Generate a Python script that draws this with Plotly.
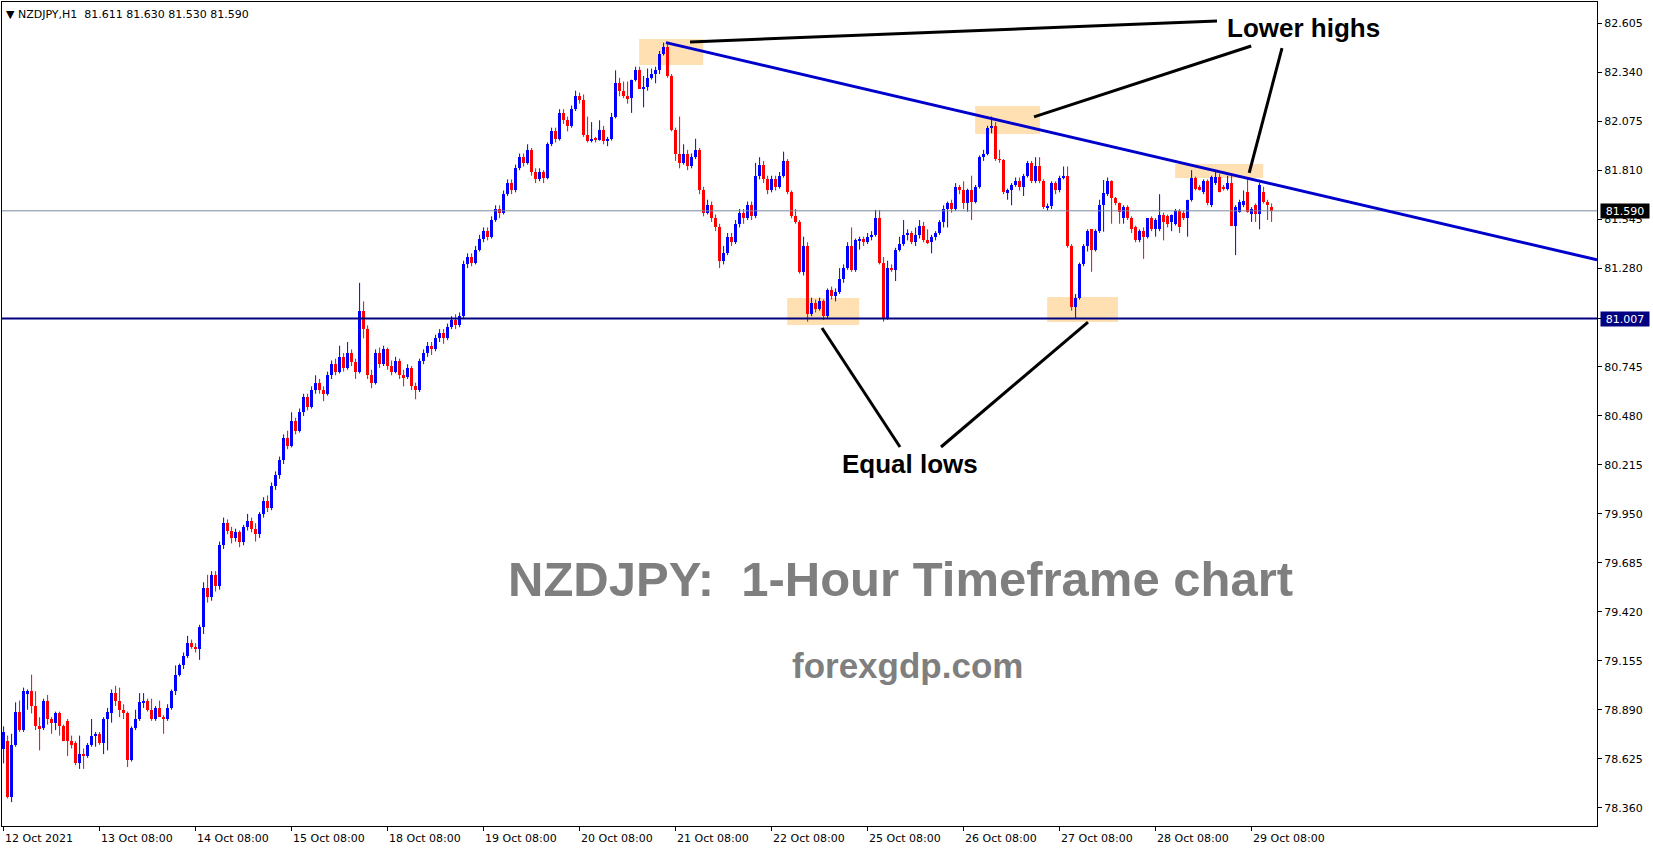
import plotly.graph_objects as go

# ---------------- data (hourly bars, NZDJPY H1) ----------------
opens = [
 78.68,78.72,78.42,78.70,78.88,78.78,78.98,78.99,78.91,78.80,78.79,78.94,78.84,78.82,78.87,78.80,78.83,78.72,78.71,78.60,78.65,78.64,78.70,78.75,
 78.76,78.71,78.84,78.87,78.98,78.94,78.89,78.87,78.62,78.79,78.84,78.93,78.94,78.89,78.84,78.90,78.85,78.84,78.90,78.99,79.08,79.13,79.18,79.25,
 79.23,79.22,79.34,79.55,79.50,79.62,79.56,79.78,79.90,79.86,79.82,79.85,79.80,79.88,79.91,79.87,79.84,79.95,80.02,79.98,80.10,80.16,80.24,80.36,
 80.32,80.45,80.40,80.50,80.58,80.53,80.62,80.66,80.62,80.60,80.70,80.76,80.72,80.80,80.74,80.82,80.77,80.72,81.05,80.95,80.70,80.66,80.82,80.76,
 80.84,80.75,80.72,80.78,80.70,80.69,80.74,80.64,80.62,80.78,80.82,80.86,80.84,80.90,80.93,80.90,80.96,81.00,80.97,81.02,81.30,81.34,81.31,81.38,
 81.44,81.48,81.45,81.54,81.60,81.58,81.68,81.74,81.70,81.82,81.88,81.85,81.92,81.80,81.76,81.80,81.77,81.95,82.02,81.98,82.12,82.08,82.05,82.14,
 82.21,82.19,82.00,81.97,81.98,81.975,82.03,81.97,81.98,82.10,82.28,82.24,82.21,82.20,82.30,82.35,82.25,82.26,82.31,82.33,82.35,82.44,82.475,82.32,
 82.03,81.90,81.85,81.90,81.83,81.88,81.92,81.70,81.58,81.62,81.55,81.50,81.32,81.36,81.45,81.42,81.52,81.58,81.55,81.62,81.56,81.78,81.84,81.76,
 81.70,81.76,81.72,81.78,81.86,81.69,81.56,81.53,81.26,81.40,81.03,81.09,81.06,81.10,81.02,81.16,81.13,81.15,81.22,81.28,81.40,81.27,81.43,81.44,
 81.42,81.45,81.46,81.55,81.31,81.01,81.28,81.27,81.38,81.41,81.46,81.47,81.42,81.46,81.51,81.43,81.42,81.45,81.47,81.53,81.60,81.63,81.60,81.72,
 81.70,81.63,81.70,81.64,81.72,81.88,81.90,82.04,82.05,81.87,81.865,81.69,81.70,81.73,81.75,81.72,81.78,81.85,81.75,81.83,81.75,81.61,81.615,81.74,
 81.70,81.77,81.78,81.40,81.07,81.12,81.30,81.40,81.49,81.38,81.48,81.62,81.68,81.75,81.66,81.63,81.55,81.61,81.55,81.50,81.43,81.48,81.45,81.55,
 81.49,81.49,81.57,81.56,81.53,81.52,81.59,81.58,81.55,81.65,81.77,81.72,81.69,81.75,81.62,81.74,81.775,81.72,81.71,81.74,81.51,81.585,81.62,81.69,
 81.575,81.62,81.575,81.69,81.64,81.611]
highs = [
 78.80,78.75,78.76,78.93,78.94,79.01,79.00,79.08,78.99,78.85,78.95,78.97,78.85,78.88,78.88,78.81,78.84,78.75,78.72,78.75,78.68,78.71,78.84,78.77,
 78.77,78.85,78.90,79.00,79.02,79.01,78.92,78.88,78.80,78.89,78.98,78.98,78.95,78.95,78.91,78.94,78.86,78.92,79.00,79.13,79.14,79.20,79.29,79.27,
 79.25,79.35,79.58,79.62,79.64,79.64,79.80,79.93,79.92,79.88,79.87,79.86,79.89,79.95,79.93,79.90,79.96,80.04,80.05,80.12,80.18,80.26,80.38,80.40,
 80.50,80.47,80.52,80.60,80.60,80.64,80.70,80.68,80.64,80.72,80.78,80.79,80.86,80.82,80.88,80.84,80.79,81.20,81.10,80.97,80.73,80.84,80.85,80.86,
 80.85,80.78,80.80,80.79,80.73,80.76,80.75,80.66,80.79,80.84,80.88,80.88,80.92,80.95,80.95,80.98,81.02,81.03,81.04,81.32,81.36,81.36,81.40,81.46,
 81.50,81.50,81.56,81.62,81.62,81.70,81.76,81.76,81.84,81.90,81.90,81.95,81.93,81.82,81.82,81.81,81.96,82.04,82.04,82.14,82.14,82.10,82.16,82.24,
 82.23,82.22,82.10,82.07,81.99,82.08,82.05,81.99,82.12,82.35,82.31,82.29,82.29,82.30,82.37,82.37,82.32,82.36,82.36,82.37,82.455,82.50,82.505,82.33,
 82.04,82.10,81.95,81.92,81.90,81.98,81.93,81.72,81.65,81.64,81.57,81.52,81.40,81.47,81.47,81.54,81.60,81.60,81.64,81.64,81.85,81.88,81.86,81.78,
 81.78,81.78,81.80,81.91,81.87,81.70,81.60,81.54,81.45,81.42,81.12,81.11,81.12,81.11,81.17,81.18,81.17,81.28,81.30,81.42,81.50,81.44,81.45,81.45,
 81.47,81.48,81.595,81.595,81.34,81.32,81.30,81.39,81.45,81.54,81.49,81.48,81.50,81.54,81.53,81.49,81.46,81.48,81.54,81.62,81.64,81.65,81.74,81.73,
 81.75,81.71,81.78,81.73,81.89,81.92,82.05,82.10,82.07,81.92,81.87,81.71,81.74,81.77,81.77,81.79,81.86,81.86,81.88,81.88,81.76,81.63,81.75,81.75,
 81.78,81.83,81.83,81.41,81.14,81.31,81.41,81.49,81.49,81.49,81.65,81.757,81.77,81.755,81.665,81.635,81.62,81.62,81.56,81.51,81.49,81.50,81.55,81.56,
 81.55,81.68,81.58,81.57,81.57,81.60,81.60,81.59,81.65,81.81,81.775,81.73,81.76,81.76,81.78,81.81,81.79,81.73,81.78,81.79,81.62,81.65,81.70,81.76,
 81.61,81.63,81.74,81.72,81.65,81.630]
lows = [
 78.60,78.41,78.39,78.69,78.77,78.77,78.89,78.87,78.78,78.67,78.78,78.81,78.76,78.78,78.75,78.72,78.64,78.68,78.59,78.57,78.57,78.63,78.69,78.69,
 78.70,78.65,78.67,78.82,78.91,78.85,78.84,78.58,78.61,78.78,78.83,78.90,78.88,78.83,78.83,78.85,78.76,78.83,78.89,78.97,79.07,79.11,79.17,79.22,
 79.20,79.16,79.30,79.47,79.48,79.53,79.54,79.76,79.84,79.79,79.80,79.77,79.78,79.86,79.85,79.80,79.82,79.93,79.96,79.97,80.08,80.14,80.22,80.30,
 80.31,80.38,80.39,80.48,80.51,80.52,80.60,80.60,80.56,80.59,80.68,80.70,80.71,80.72,80.73,80.75,80.68,80.71,80.90,80.68,80.63,80.65,80.74,80.75,
 80.73,80.70,80.71,80.68,80.64,80.68,80.62,80.57,80.61,80.76,80.80,80.81,80.83,80.88,80.87,80.89,80.95,80.95,80.96,81.01,81.28,81.29,81.30,81.37,
 81.42,81.43,81.44,81.53,81.55,81.57,81.67,81.68,81.69,81.81,81.83,81.84,81.78,81.74,81.75,81.74,81.76,81.94,81.96,81.97,82.06,82.02,82.04,82.13,
 82.17,81.99,81.96,81.96,81.96,81.97,81.95,81.94,81.97,82.09,82.21,82.20,82.17,82.12,82.29,82.25,82.15,82.24,82.30,82.28,82.33,82.43,82.31,82.02,
 81.86,81.82,81.84,81.81,81.82,81.87,81.68,81.56,81.57,81.53,81.48,81.28,81.30,81.35,81.40,81.41,81.50,81.52,81.54,81.54,81.55,81.76,81.74,81.68,
 81.69,81.70,81.71,81.77,81.68,81.55,81.52,81.25,81.24,80.99,81.02,81.04,81.05,81.00,81.01,81.11,81.10,81.14,81.20,81.27,81.26,81.26,81.38,81.40,
 81.41,81.43,81.45,81.30,80.99,81.00,81.26,81.21,81.37,81.40,81.43,81.41,81.40,81.44,81.42,81.41,81.36,81.43,81.46,81.50,81.50,81.58,81.59,81.68,
 81.60,81.585,81.54,81.63,81.71,81.86,81.89,82.01,81.86,81.85,81.68,81.65,81.62,81.72,81.70,81.67,81.77,81.74,81.74,81.74,81.60,81.59,81.60,81.68,
 81.69,81.76,81.39,81.05,81.008,81.11,81.29,81.37,81.26,81.37,81.47,81.477,81.67,81.52,81.62,81.52,81.52,81.54,81.47,81.42,81.42,81.33,81.44,81.48,
 81.45,81.48,81.43,81.50,81.48,81.51,81.47,81.54,81.45,81.64,81.70,81.70,81.68,81.62,81.61,81.73,81.69,81.70,81.70,81.51,81.35,81.58,81.61,81.58,
 81.53,81.53,81.49,81.63,81.54,81.530]
closes = [
 78.77,78.42,78.70,78.88,78.78,78.99,78.99,78.91,78.80,78.79,78.94,78.84,78.82,78.87,78.80,78.72,78.72,78.70,78.60,78.65,78.64,78.70,78.75,78.76,
 78.71,78.84,78.88,78.98,78.94,78.89,78.87,78.62,78.79,78.84,78.93,78.94,78.89,78.84,78.90,78.85,78.84,78.90,78.99,79.08,79.13,79.18,79.25,79.23,
 79.22,79.34,79.55,79.50,79.62,79.56,79.78,79.90,79.86,79.82,79.85,79.80,79.88,79.91,79.87,79.84,79.95,80.02,79.98,80.10,80.16,80.24,80.36,80.32,
 80.45,80.40,80.50,80.58,80.53,80.62,80.66,80.62,80.60,80.70,80.76,80.72,80.80,80.74,80.82,80.77,80.72,81.05,80.95,80.70,80.66,80.82,80.76,80.84,
 80.75,80.72,80.78,80.70,80.69,80.74,80.64,80.62,80.78,80.82,80.86,80.84,80.90,80.93,80.90,80.96,81.00,80.97,81.02,81.30,81.34,81.31,81.38,81.44,
 81.48,81.45,81.54,81.60,81.58,81.68,81.74,81.70,81.82,81.88,81.85,81.92,81.80,81.76,81.80,81.77,81.95,82.02,81.98,82.12,82.08,82.05,82.14,82.21,
 82.19,82.00,81.97,81.98,81.975,82.03,81.97,81.98,82.10,82.28,82.24,82.21,82.20,82.30,82.35,82.25,82.26,82.31,82.33,82.35,82.44,82.475,82.32,82.03,
 81.90,81.85,81.90,81.83,81.88,81.92,81.70,81.58,81.62,81.55,81.50,81.32,81.36,81.45,81.42,81.52,81.58,81.55,81.62,81.56,81.78,81.84,81.76,81.70,
 81.76,81.72,81.78,81.86,81.69,81.56,81.53,81.26,81.40,81.03,81.09,81.06,81.10,81.02,81.16,81.13,81.15,81.22,81.28,81.40,81.27,81.43,81.44,81.42,
 81.45,81.46,81.55,81.31,81.01,81.28,81.27,81.38,81.41,81.46,81.47,81.42,81.46,81.51,81.43,81.42,81.45,81.47,81.53,81.60,81.63,81.60,81.72,81.70,
 81.63,81.70,81.64,81.72,81.88,81.90,82.04,82.05,81.87,81.865,81.69,81.70,81.73,81.75,81.72,81.78,81.85,81.75,81.83,81.75,81.61,81.615,81.74,81.70,
 81.77,81.78,81.40,81.07,81.12,81.30,81.40,81.48,81.38,81.48,81.62,81.684,81.75,81.66,81.63,81.585,81.61,81.55,81.49,81.43,81.48,81.45,81.55,81.49,
 81.54,81.57,81.53,81.52,81.57,81.59,81.50,81.55,81.65,81.77,81.71,81.705,81.75,81.63,81.775,81.775,81.69,81.71,81.74,81.51,81.61,81.64,81.645,81.585,
 81.60,81.575,81.73,81.64,81.62,81.590]

tick_bars = [0, 24, 48, 72, 96, 120, 144, 168, 192, 216, 240, 264, 288, 312]
tick_text = ["12 Oct 2021", "13 Oct 08:00", "14 Oct 08:00", "15 Oct 08:00", "18 Oct 08:00",
             "19 Oct 08:00", "20 Oct 08:00", "21 Oct 08:00", "22 Oct 08:00", "25 Oct 08:00",
             "26 Oct 08:00", "27 Oct 08:00", "28 Oct 08:00", "29 Oct 08:00"]
price_ticks = [78.360, 78.625, 78.890, 79.155, 79.420, 79.685, 79.950, 80.215, 80.480,
               80.745, 81.010, 81.280, 81.545, 81.810, 82.075, 82.340, 82.605]
bid_price = 81.590
support_price = 81.007
trend_bars = [165.6, 398.35]
trend_prices = [82.50, 81.325]
# highlight boxes: (bar0, bar1, price0, price1)
box_bars = [(158.9, 174.9), (242.9, 259.1), (292.9, 314.9), (195.9, 213.9), (260.9, 278.6)]
box_prices = [(82.379, 82.520), (82.006, 82.157), (81.768, 81.843), (80.972, 81.118), (80.988, 81.124)]
# callout lines: (bar0, price0, bar1, price1)
callout_lines = [(171.6, 82.504, 303.35, 82.617), (311.9, 82.482, 257.6, 82.098),
                 (319.6, 82.471, 311.4, 81.795), (204.6, 80.956, 224.1, 80.312),
                 (234.35, 80.312, 271.1, 80.988)]
label_lower_highs = (324.9, 82.577)
label_equal_lows = (226.7, 80.220)
label_title = (224.2, 79.600)
label_site = (226.0, 79.132)

X_RANGE = [-0.4, 398.35]
Y_RANGE = [78.261, 82.720]
UP = "#0000FF"
DOWN = "#FF0000"

bars = list(range(len(closes)))
fig = go.Figure()

for is_up, col in [(True, UP), (False, DOWN)]:
    idx = [i for i in bars if (closes[i] >= opens[i]) == is_up]
    wx, wy = [], []
    for i in idx:
        wx += [i, i, None]
        wy += [lows[i], highs[i], None]
    fig.add_trace(go.Scatter(x=wx, y=wy, mode="lines", line=dict(color=col, width=1),
                             hoverinfo="skip", showlegend=False))
    fig.add_trace(go.Bar(x=idx,
                         base=[min(opens[i], closes[i]) for i in idx],
                         y=[max(abs(closes[i] - opens[i]), 0.005) for i in idx],
                         width=0.75, marker=dict(color=col, line=dict(width=0)),
                         hoverinfo="skip", showlegend=False))

shapes = []
for (b0, b1), (p0, p1) in zip(box_bars, box_prices):
    shapes.append(dict(type="rect", xref="x", yref="y", x0=b0, x1=b1, y0=p0, y1=p1,
                       fillcolor="rgb(255,224,178)", line=dict(width=0), layer="below"))
shapes.append(dict(type="line", xref="paper", yref="y", x0=0, x1=1, y0=bid_price, y1=bid_price,
                   line=dict(color="#778899", width=1)))
shapes.append(dict(type="line", xref="paper", yref="y", x0=0, x1=1, y0=support_price, y1=support_price,
                   line=dict(color="#000080", width=2)))
shapes.append(dict(type="line", xref="x", yref="y", x0=trend_bars[0], x1=trend_bars[1],
                   y0=trend_prices[0], y1=trend_prices[1], line=dict(color="#0000CD", width=3)))
for b0, p0, b1, p1 in callout_lines:
    shapes.append(dict(type="line", xref="x", yref="y", x0=b0, y0=p0, x1=b1, y1=p1,
                       line=dict(color="black", width=3)))

ann = []
for b, t in zip(tick_bars, tick_text):
    ann.append(dict(x=b, y=0, xref="x", yref="paper", text=t, showarrow=False,
                    xanchor="left", yanchor="top", yshift=-4, xshift=-1,
                    font=dict(family="DejaVu Sans", size=11, color="black")))
header = "\u25BC NZDJPY,H1\u00a0\u00a0%.3f %.3f %.3f %.3f" % (opens[-1], highs[-1], lows[-1], closes[-1])
ann.append(dict(x=0, y=1, xref="paper", yref="paper", text=header, showarrow=False,
                xanchor="left", yanchor="top", xshift=2, yshift=-4,
                font=dict(family="DejaVu Sans", size=11, color="black")))
for price, bg in [(bid_price, "black"), (support_price, "#000080")]:
    ann.append(dict(x=1, y=price, xref="paper", yref="y", text="%.3f" % price, showarrow=False,
                    xanchor="left", yanchor="middle", xshift=3, bgcolor=bg, borderpad=1,
                    width=46, height=12, align="center",
                    font=dict(family="DejaVu Sans", size=11, color="white")))
ann.append(dict(x=label_lower_highs[0], y=label_lower_highs[1], xref="x", yref="y",
                text="<b>Lower highs</b>", showarrow=False,
                font=dict(family="Liberation Sans", size=26, color="black")))
ann.append(dict(x=label_equal_lows[0], y=label_equal_lows[1], xref="x", yref="y",
                text="<b>Equal lows</b>", showarrow=False,
                font=dict(family="Liberation Sans", size=26, color="black")))
ann.append(dict(x=label_title[0], y=label_title[1], xref="x", yref="y",
                text="<b>NZDJPY:\u00a0\u00a01-Hour Timeframe chart</b>", showarrow=False,
                font=dict(family="Liberation Sans", size=49, color="#7F7F7F")))
ann.append(dict(x=label_site[0], y=label_site[1], xref="x", yref="y",
                text="<b>forexgdp.com</b>", showarrow=False,
                font=dict(family="Liberation Sans", size=35, color="#7F7F7F")))

fig.update_layout(
    width=1653, height=850,
    margin=dict(l=2, r=56, t=2, b=24),
    paper_bgcolor="white", plot_bgcolor="white",
    barmode="overlay", bargap=0,
    showlegend=False, shapes=shapes, annotations=ann,
    font=dict(family="DejaVu Sans", size=11, color="black"),
    xaxis=dict(range=X_RANGE, showgrid=False, zeroline=False, showline=True, linecolor="black",
               linewidth=1, mirror=True, ticks="outside", ticklen=4, tickcolor="black",
               tickvals=tick_bars, showticklabels=False, fixedrange=True),
    yaxis=dict(range=Y_RANGE, side="right", showgrid=False, zeroline=False, showline=True,
               linecolor="black", linewidth=1, mirror=True, ticks="outside", ticklen=4,
               tickcolor="black", tickvals=price_ticks, ticktext=["%.3f" % p for p in price_ticks],
               tickfont=dict(family="DejaVu Sans", size=11, color="black"), fixedrange=True),
)

fig.write_html("out.html", config={"displayModeBar": False},
               post_script="document.body.style.margin='0px';document.body.style.overflow='hidden';")
